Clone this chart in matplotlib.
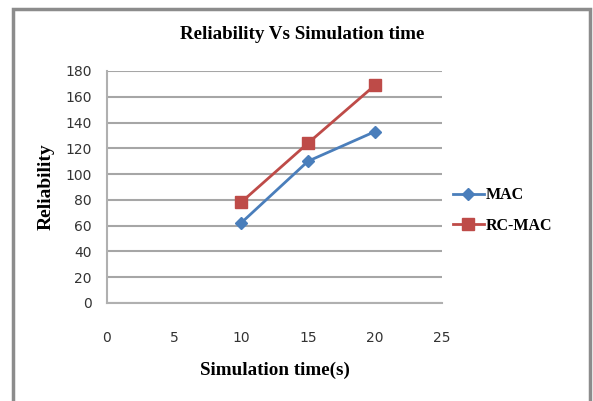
import matplotlib
matplotlib.use("Agg")
import matplotlib.pyplot as plt
from matplotlib.patches import Rectangle

# data
sim_time = [10, 15, 20]
mac = [62, 110, 133]
rc_mac = [78, 124, 169]
x_ticks = [0, 5, 10, 15, 20, 25]
y_ticks = list(range(0, 181, 20))

fig = plt.figure(figsize=(5.93, 4.01), dpi=100)
fig.patches.append(Rectangle((0.022, -0.01), 0.973, 0.988, transform=fig.transFigure,
                             fill=False, edgecolor='#8c8c8c', linewidth=2.5))

ax = fig.add_axes([0.1804, 0.2444, 0.565, 0.5786])
ax.plot(sim_time, mac, color='#4a7ebb', linewidth=2, marker='D', markersize=6, label='MAC')
ax.plot(sim_time, rc_mac, color='#be4b48', linewidth=2, marker='s', markersize=8, label='RC-MAC')

ax.set_xlim(0, 25)
ax.set_ylim(0, 180)
ax.set_xticks(x_ticks)
ax.set_yticks(y_ticks)
ax.grid(axis='y', color='#a6a6a6', linewidth=1.5)
ax.set_axisbelow(True)
for side in ['top', 'right']:
    ax.spines[side].set_visible(False)
for side in ['left', 'bottom']:
    ax.spines[side].set_color('#b0b0b0')
    ax.spines[side].set_linewidth(1.5)
ax.tick_params(length=0, labelsize=10, colors='#333333')
ax.tick_params(axis='x', pad=20)
ax.tick_params(axis='y', pad=11)

serif = {'family': 'Liberation Serif', 'weight': 'bold'}
fig.text(0.509, 0.913, 'Reliability Vs Simulation time', ha='center', va='center',
         fontsize=13.7, **serif)
ax.set_xlabel('Simulation time(s)', fontsize=13.7, **serif)
ax.set_ylabel('Reliability', fontsize=14, **serif)
ax.xaxis.set_label_coords(0.5, -0.289)
ax.yaxis.set_label_coords(-0.182, 0.5)
ax.xaxis.label.set_va('center')
ax.yaxis.label.set_va('center')

leg = ax.legend(loc='center left', bbox_to_anchor=(1.0, 0.399), frameon=False,
                prop={'family': 'Liberation Serif', 'weight': 'bold', 'size': 11.5},
                handlelength=1.9, handletextpad=0.15, labelspacing=0.9,
                borderaxespad=0.3)

plt.savefig('out.png', dpi=100)
